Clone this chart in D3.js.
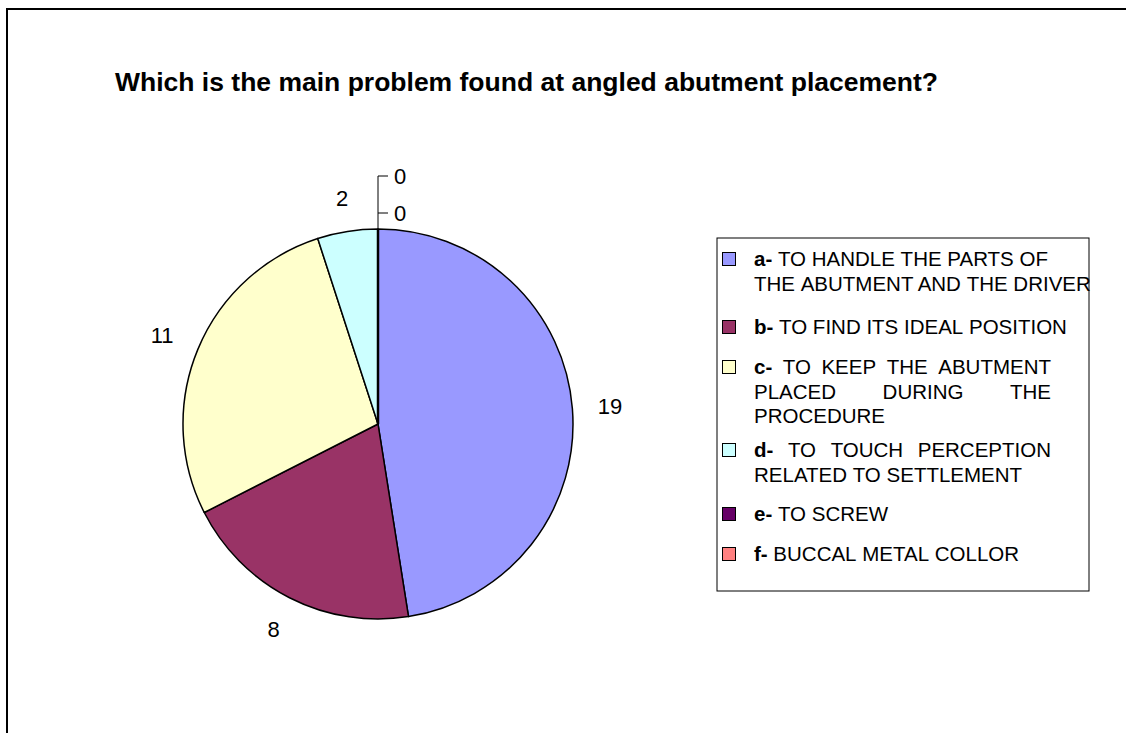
<!DOCTYPE html>
<html>
<head>
<meta charset="utf-8">
<script src="https://cdn.jsdelivr.net/npm/d3@7"></script>
<style>
  body { margin: 0; background: #fff; }
  text { font-family: Arial, "Liberation Sans", sans-serif; }
</style>
</head>
<body>
<div id="chart"></div>
<script>
var svgWidth = 1126;
var svgHeight = 733;

// chart data
var title = "Which is the main problem found at angled abutment placement?";
var categories = ["a-", "b-", "c-", "d-", "e-", "f-"];
var values = [19, 8, 11, 2, 0, 0];
var colors = ["#9999FF", "#993366", "#FFFFCC", "#CCFFFF", "#660066", "#FF8080"];
var legendText = [
  ["TO HANDLE THE PARTS OF", "THE ABUTMENT AND THE DRIVER"],
  ["TO FIND ITS IDEAL POSITION"],
  ["TO KEEP THE ABUTMENT", "PLACED DURING THE", "PROCEDURE"],
  ["TO TOUCH PERCEPTION", "RELATED TO SETTLEMENT"],
  ["TO SCREW"],
  ["BUCCAL METAL COLLOR"]
];

// layout
var cx = 378, cy = 424, radius = 195, labelGap = 220;
var legendBox = {x: 717, y: 238, w: 372, h: 353};
var legendBaselines = [266, 334, 374, 457, 521, 561];
var legendTextX = 754, legendRight = 1051, lineGap = 24.5;
var justifyRows = [2, 3];

var svg = d3.select("#chart")
  .append("svg")
  .attr("width", svgWidth)
  .attr("height", svgHeight);

// outer chart frame (runs off the right and bottom edges)
svg.append("rect")
  .attr("x", 7)
  .attr("y", 9)
  .attr("width", 1300)
  .attr("height", 900)
  .attr("fill", "#fff")
  .attr("stroke", "#000")
  .attr("stroke-width", 2);

svg.append("text")
  .attr("x", 115)
  .attr("y", 91)
  .attr("font-size", 26.5)
  .attr("font-weight", "bold")
  .text(title);

// Pie
var data = categories.map(function(c, i) {
  return {cat: c, value: values[i], color: colors[i]};
});

var pie = d3.pie()
  .sort(null)
  .value(d => d.value)
  .startAngle(0)
  .endAngle(2 * Math.PI);

var arcs = pie(data);

var arc = d3.arc().innerRadius(0).outerRadius(radius);

var pieGroup = svg.append("g")
  .attr("transform", `translate(${cx}, ${cy})`);

pieGroup.selectAll("path")
  .data(arcs.filter(d => d.data.value > 0))
  .enter()
  .append("path")
  .attr("d", arc)
  .attr("fill", d => d.data.color)
  .attr("stroke", "#000")
  .attr("stroke-width", 1.5)
  .attr("stroke-linejoin", "round");

// zero slices collapse to a line at the top
pieGroup.append("line")
  .attr("x1", 0).attr("y1", 0)
  .attr("x2", 0).attr("y2", -radius)
  .attr("stroke", "#000")
  .attr("stroke-width", 2.5);

// Data labels: box edge kept a fixed distance from the centre
var nonZero = arcs.filter(d => d.data.value > 0);
nonZero.forEach(function(d) {
  var mid = (d.startAngle + d.endAngle) / 2;
  var sx = Math.sin(mid), sy = -Math.cos(mid);
  var t = pieGroup.append("text")
    .attr("text-anchor", "middle")
    .attr("dy", "0.36em")
    .attr("font-size", 22)
    .text(d.data.value);
  var w = t.node().getComputedTextLength();
  var h = 16;
  var r = labelGap + (w / 2) * Math.abs(sx) + (h / 2) * Math.abs(sy);
  t.attr("x", r * sx).attr("y", r * sy);
});

// zero labels stacked above the top with leader lines
var zeros = arcs.filter(d => d.data.value === 0);
var leaderTop = -radius;
zeros.forEach(function(d, i) {
  var y = -radius - 16 - i * 37;
  leaderTop = Math.min(leaderTop, y);
  pieGroup.append("line")
    .attr("x1", 0).attr("y1", y)
    .attr("x2", 10).attr("y2", y)
    .attr("stroke", "#000")
    .attr("stroke-width", 1);
  pieGroup.append("text")
    .attr("x", 22)
    .attr("y", y)
    .attr("dy", "0.36em")
    .attr("text-anchor", "middle")
    .attr("font-size", 22)
    .text(d.data.value);
});
pieGroup.append("line")
  .attr("x1", 0).attr("y1", -radius)
  .attr("x2", 0).attr("y2", leaderTop)
  .attr("stroke", "#000")
  .attr("stroke-width", 1);

// Legend
svg.append("rect")
  .attr("x", legendBox.x)
  .attr("y", legendBox.y)
  .attr("width", legendBox.w)
  .attr("height", legendBox.h)
  .attr("fill", "#fff")
  .attr("stroke", "#000")
  .attr("stroke-width", 1);

var legend = svg.append("g");

data.forEach(function(d, i) {
  var base = legendBaselines[i];
  legend.append("rect")
    .attr("x", 722.5)
    .attr("y", base - 13.5)
    .attr("width", 13)
    .attr("height", 13)
    .attr("fill", d.color)
    .attr("stroke", "#000")
    .attr("stroke-width", 1);

  legendText[i].forEach(function(line, j) {
    var justify = justifyRows.indexOf(i) >= 0 && j < legendText[i].length - 1;
    var words = line.split(" ");
    if (j === 0) words.unshift(d.cat);
    var t = legend.append("text")
      .attr("y", base + j * lineGap)
      .attr("font-size", 20.5);
    var spans = words.map(function(w, k) {
      return t.append("tspan")
        .attr("font-weight", (j === 0 && k === 0) ? "bold" : null)
        .text(w);
    });
    var widths = spans.map(s => s.node().getComputedTextLength());
    var total = d3.sum(widths);
    var gap = justify ? (legendRight - legendTextX - total) / (words.length - 1) : 5.7;
    var x = legendTextX;
    spans.forEach(function(s, k) {
      s.attr("x", x);
      x += widths[k] + gap;
    });
  });
});
</script>
</body>
</html>
